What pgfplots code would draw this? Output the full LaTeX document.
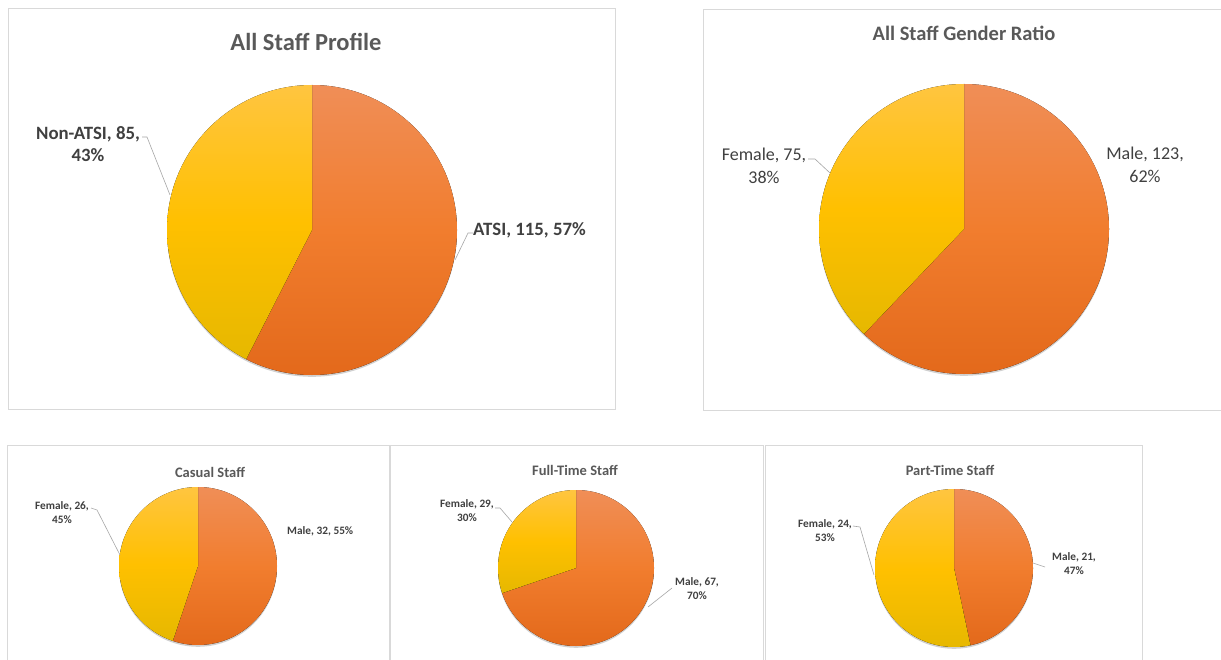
\documentclass[border=0pt]{standalone}
\usepackage{pgfplots}
\pgfplotsset{compat=1.18}
\usepackage{pgfplotstable}
\usepackage{fontspec}
\setmainfont{Carlito}
\definecolor{oTop}{HTML}{F08E57}
\definecolor{oMid}{HTML}{F17D2E}
\definecolor{oBot}{HTML}{E3691B}
\definecolor{yTop}{HTML}{FFC540}
\definecolor{yMid}{HTML}{FFC000}
\definecolor{yBot}{HTML}{E6B800}
\definecolor{frame}{HTML}{D9D9D9}
\definecolor{titlecol}{HTML}{595959}
\definecolor{labcol}{HTML}{404040}
\definecolor{leadcol}{HTML}{A6A6A6}

\pgfplotstableread{
label value pct
ATSI 115 57
Non-ATSI 85 43
}\profile
\pgfplotstableread{
label value pct
Male 123 62
Female 75 38
}\gender
\pgfplotstableread{
label value pct
Male 32 55
Female 26 45
}\casual
\pgfplotstableread{
label value pct
Male 67 70
Female 29 30
}\fulltime
\pgfplotstableread{
label value pct
Male 21 47
Female 24 53
}\parttime

\newcommand\getangle[1]{%
  \pgfplotstablegetelem{0}{value}\of{#1}\edef\va{\pgfplotsretval}%
  \pgfplotstablegetelem{1}{value}\of{#1}\edef\vb{\pgfplotsretval}%
  \pgfmathsetmacro\frac{\va/(\va+\vb)}%
  \pgfmathsetmacro\angB{90-360*\frac}%
  \pgfmathsetmacro\angC{\angB+360}%
}
% #1 cx, #2 cy, #3 r
\newcommand\drawpie[3]{%
  \pgfmathsetmacro\topy{#2+#3}%
  \pgfmathsetmacro\shy{#2-1.8}%
  \fill[black,opacity=0.18] (axis cs:#1,\shy) circle[radius=#3pt];
  \fill[top color=oTop,bottom color=oBot,middle color=oMid]
    (axis cs:#1,#2) -- (axis cs:#1,\topy) arc[start angle=90,end angle=\angB,radius=#3pt] -- cycle;
  \fill[top color=yTop,bottom color=yBot,middle color=yMid]
    (axis cs:#1,#2) -- (axis cs:#1,\topy) arc[start angle=90,end angle=\angC,radius=#3pt] -- cycle;
}
\pgfplotsset{piebox/.style={x=1pt,y=1pt,xtick=\empty,ytick=\empty,
  axis line style={draw=frame,line width=0.9pt},clip=false,anchor=south west}}
\tikzset{leader/.style={draw=leadcol,line width=0.6pt},
  big/.style={text=labcol,font=\fontsize{18.8}{22}\selectfont\bfseries,align=center,inner sep=0pt},
  mid/.style={text=labcol,font=\fontsize{18}{23}\selectfont,align=center,inner sep=0pt},
  small/.style={text=labcol,font=\fontsize{11.3}{14}\selectfont\bfseries,align=center,inner sep=0pt}}

\begin{document}
\begin{tikzpicture}
\path[use as bounding box] (0,0) rectangle (1221pt,-660pt);
\clip (0,0) rectangle (1221pt,-660pt);
\fill[white] (0,0) rectangle (1221pt,-660pt);

% ---- All Staff Profile
\getangle{\profile}
\begin{axis}[piebox,at={(8pt,-409pt)},xmin=8,xmax=615,ymin=-409,ymax=-8]
\drawpie{312}{-230}{145}
\node[text=titlecol,font=\fontsize{24.5}{28}\selectfont\bfseries] at (axis cs:306,-42) {All Staff Profile};
\node[big] at (axis cs:88,-144) {Non-ATSI, 85,\\43\%};
\draw[leader] (axis cs:142,-137) -- (axis cs:147,-137) -- (axis cs:170,-195);
\node[big,anchor=west] at (axis cs:473,-230) {ATSI, 115, 57\%};
\draw[leader] (axis cs:473,-233) -- (axis cs:468,-233) -- (axis cs:455,-260);
\end{axis}

% ---- All Staff Gender Ratio
\getangle{\gender}
\begin{axis}[piebox,at={(703pt,-410pt)},xmin=703,xmax=1240,ymin=-410,ymax=-9]
\drawpie{964}{-229}{145}
\node[text=titlecol,font=\fontsize{20.5}{24}\selectfont\bfseries] at (axis cs:964,-33) {All Staff Gender Ratio};
\node[mid] at (axis cs:764,-166) {Female, 75,\\38\%};
\draw[leader] (axis cs:808,-159) -- (axis cs:815,-159) -- (axis cs:830,-173);
\node[mid] at (axis cs:1145,-165) {Male, 123,\\62\%};
\end{axis}

% ---- Casual Staff
\getangle{\casual}
\begin{axis}[piebox,at={(7pt,-700pt)},xmin=7,xmax=389,ymin=-700,ymax=-445]
\drawpie{198}{-566}{79}
\node[text=titlecol,font=\fontsize{14.5}{17}\selectfont\bfseries] at (axis cs:210,-472) {Casual Staff};
\node[small] at (axis cs:62,-513) {Female, 26,\\45\%};
\draw[leader] (axis cs:91,-508) -- (axis cs:97,-510) -- (axis cs:120,-555);
\node[small,anchor=west] at (axis cs:287,-531) {Male, 32, 55\%};
\end{axis}

% ---- Full-Time Staff
\getangle{\fulltime}
\begin{axis}[piebox,at={(390pt,-700pt)},xmin=390,xmax=763,ymin=-700,ymax=-445]
\drawpie{576}{-568}{78}
\node[text=titlecol,font=\fontsize{14.5}{17}\selectfont\bfseries] at (axis cs:575,-470) {Full-Time Staff};
\node[small] at (axis cs:467,-511) {Female, 29,\\30\%};
\draw[leader] (axis cs:495,-508) -- (axis cs:500,-508) -- (axis cs:512,-522);
\node[small] at (axis cs:697,-589) {Male, 67,\\70\%};
\draw[leader] (axis cs:672,-588) -- (axis cs:648,-607);
\end{axis}

% ---- Part-Time Staff
\getangle{\parttime}
\begin{axis}[piebox,at={(765pt,-700pt)},xmin=765,xmax=1142,ymin=-700,ymax=-445]
\drawpie{954}{-568}{79}
\node[text=titlecol,font=\fontsize{14.5}{17}\selectfont\bfseries] at (axis cs:950,-470) {Part-Time Staff};
\node[small] at (axis cs:825,-531) {Female, 24,\\53\%};
\draw[leader] (axis cs:853,-526) -- (axis cs:860,-527) -- (axis cs:874,-575);
\node[small] at (axis cs:1074,-564) {Male, 21,\\47\%};
\draw[leader] (axis cs:1033,-563) -- (axis cs:1045,-567);
\end{axis}
\end{tikzpicture}
\end{document}
